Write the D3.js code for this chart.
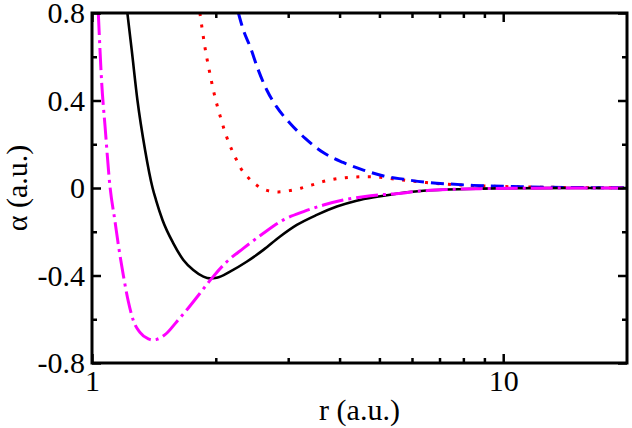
<!DOCTYPE html>
<html>
<head>
<meta charset="utf-8">
<script src="https://cdn.jsdelivr.net/npm/d3@7"></script>
<style>
  body { margin: 0; background: #fff; }
  text { font-family: "Liberation Serif", "Times New Roman", serif; }
</style>
</head>
<body>
<div id="chart"></div>
<script>
const width = 632;
const height = 428;
const margin = { top: 13, right: 5, bottom: 65, left: 92 };

// curves (r in a.u., alpha in a.u.)
const rBlack = [1.219, 1.249, 1.290, 1.346, 1.404, 1.431, 1.484, 1.577, 1.668, 1.763, 1.866, 1.935, 2.01, 2.166, 2.377, 2.611, 2.867, 3.148, 3.52, 3.94, 4.40, 4.93, 5.5, 6.2, 7.3, 8.8, 11, 15, 20];
const aBlack = [0.8, 0.631, 0.40, 0.174, 0.0, -0.055, -0.146, -0.253, -0.329, -0.375, -0.405, -0.413, -0.41, -0.382, -0.337, -0.283, -0.222, -0.169, -0.123, -0.085, -0.058, -0.040, -0.026, -0.015, -0.007, -0.003, -0.001, -0.0002, 0];

const rMagenta = [1.036, 1.056, 1.076, 1.106, 1.137, 1.159, 1.192, 1.226, 1.26, 1.308, 1.371, 1.404, 1.437, 1.519, 1.607, 1.699, 1.831, 1.955, 2.127, 2.333, 2.611, 2.92, 3.27, 3.655, 4.08, 4.57, 5.12, 5.5, 6.2, 7.3, 8.8, 11, 15, 20];
const aMagenta = [0.8, 0.478, 0.28, 0.006, -0.15, -0.26, -0.40, -0.52, -0.605, -0.66, -0.69, -0.695, -0.692, -0.664, -0.611, -0.558, -0.481, -0.413, -0.337, -0.276, -0.207, -0.146, -0.108, -0.078, -0.055, -0.040, -0.030, -0.026, -0.015, -0.007, -0.003, -0.001, -0.0002, 0];

const rRed = [1.83, 1.884, 1.929, 1.981, 2.047, 2.127, 2.236, 2.30, 2.40, 2.517, 2.661, 2.84, 3.02, 3.22, 3.43, 3.64, 4.13, 4.70, 5.02, 5.5, 6.5, 7.5, 9, 11, 15, 20];
const aRed = [0.8, 0.639, 0.536, 0.433, 0.332, 0.232, 0.136, 0.090, 0.047, 0.012, -0.011, -0.018, -0.012, -0.001, 0.014, 0.029, 0.047, 0.052, 0.049, 0.040, 0.025, 0.016, 0.009, 0.005, 0.002, 0.0005];

const rBlue = [2.27, 2.334, 2.424, 2.538, 2.661, 2.81, 3.03, 3.30, 3.65, 4.08, 4.57, 5.12, 5.72, 6.52, 7.45, 8.46, 11, 15.4, 20];
const aBlue = [0.8, 0.722, 0.646, 0.539, 0.448, 0.372, 0.296, 0.227, 0.162, 0.117, 0.082, 0.055, 0.040, 0.026, 0.018, 0.012, 0.006, 0.002, 0.0008];

// ticks
const xMajor = [1, 10];
const xMinor = [2, 3, 4, 5, 6, 7, 8, 9];
const yMajor = [-0.8, -0.4, 0, 0.4, 0.8];
const yMinor = [-0.6, -0.2, 0.2, 0.6];

const svg = d3.select("#chart")
    .append("svg")
    .attr("width", width)
    .attr("height", height);

const x = d3.scaleLog().domain([1, 20]).range([margin.left, width - margin.right]);
const y = d3.scaleLinear().domain([-0.8, 0.8]).range([height - margin.bottom, margin.top]);

svg.append("clipPath").attr("id", "clip")
    .append("rect")
    .attr("x", margin.left).attr("y", margin.top)
    .attr("width", width - margin.left - margin.right)
    .attr("height", height - margin.top - margin.bottom);

const line = d3.line()
    .x(d => x(d[0]))
    .y(d => y(d[1]))
    .curve(d3.curveMonotoneX);

const series = [
    { r: rRed, a: aRed, color: "#ff0000", dash: "3,8.5", w: 3 },
    { r: rBlue, a: aBlue, color: "#0000ff", dash: "13,7", w: 3 },
    { r: rBlack, a: aBlack, color: "#000000", dash: null, w: 2.6 },
    { r: rMagenta, a: aMagenta, color: "#ff00ff", dash: "22,5,3,5", w: 3 }
];

const plot = svg.append("g").attr("clip-path", "url(#clip)");
series.forEach(s => {
    plot.append("path")
        .datum(s.r.map((r, i) => [r, s.a[i]]))
        .attr("d", line)
        .attr("fill", "none")
        .attr("stroke", s.color)
        .attr("stroke-width", s.w)
        .attr("stroke-dasharray", s.dash);
});

const fmt = d => d === 0 ? "0" : d.toFixed(1);
const bottom = height - margin.bottom;
const right = width - margin.right;

function styleAxis(g) {
    g.select(".domain").remove();
    g.selectAll(".tick line").attr("stroke", "#000").attr("stroke-width", 2.5);
    g.selectAll(".tick text").attr("fill", "#000").style("font-size", "30px");
}

// bottom and top axes (ticks point inward)
svg.append("g").attr("transform", `translate(0,${bottom})`)
    .call(d3.axisBottom(x).tickValues(xMajor).tickSize(-9).tickPadding(7).tickFormat(d3.format("d")))
    .call(styleAxis);
svg.append("g").attr("transform", `translate(0,${bottom})`)
    .call(d3.axisBottom(x).tickValues(xMinor).tickSize(-5).tickFormat(""))
    .call(styleAxis);
svg.append("g").attr("transform", `translate(0,${margin.top})`)
    .call(d3.axisTop(x).tickValues(xMajor).tickSize(-9).tickFormat(""))
    .call(styleAxis);
svg.append("g").attr("transform", `translate(0,${margin.top})`)
    .call(d3.axisTop(x).tickValues(xMinor).tickSize(-5).tickFormat(""))
    .call(styleAxis);

// left and right axes
svg.append("g").attr("transform", `translate(${margin.left},0)`)
    .call(d3.axisLeft(y).tickValues(yMajor).tickSize(-9).tickPadding(7).tickFormat(fmt))
    .call(styleAxis);
svg.append("g").attr("transform", `translate(${margin.left},0)`)
    .call(d3.axisLeft(y).tickValues(yMinor).tickSize(-5).tickFormat(""))
    .call(styleAxis);
svg.append("g").attr("transform", `translate(${right},0)`)
    .call(d3.axisRight(y).tickValues(yMajor).tickSize(-9).tickFormat(""))
    .call(styleAxis);
svg.append("g").attr("transform", `translate(${right},0)`)
    .call(d3.axisRight(y).tickValues(yMinor).tickSize(-5).tickFormat(""))
    .call(styleAxis);

// frame
svg.append("rect")
    .attr("x", margin.left).attr("y", margin.top)
    .attr("width", right - margin.left)
    .attr("height", bottom - margin.top)
    .attr("fill", "none")
    .attr("stroke", "#000")
    .attr("stroke-width", 3);

// axis titles
svg.append("text")
    .attr("x", (margin.left + right) / 2)
    .attr("y", 420)
    .attr("text-anchor", "middle")
    .style("font-size", "30px")
    .text("r (a.u.)");

svg.append("text")
    .attr("transform", `translate(27,${(margin.top + bottom) / 2}) rotate(-90)`)
    .attr("text-anchor", "middle")
    .style("font-size", "30px")
    .text("α (a.u.)");
</script>
</body>
</html>
